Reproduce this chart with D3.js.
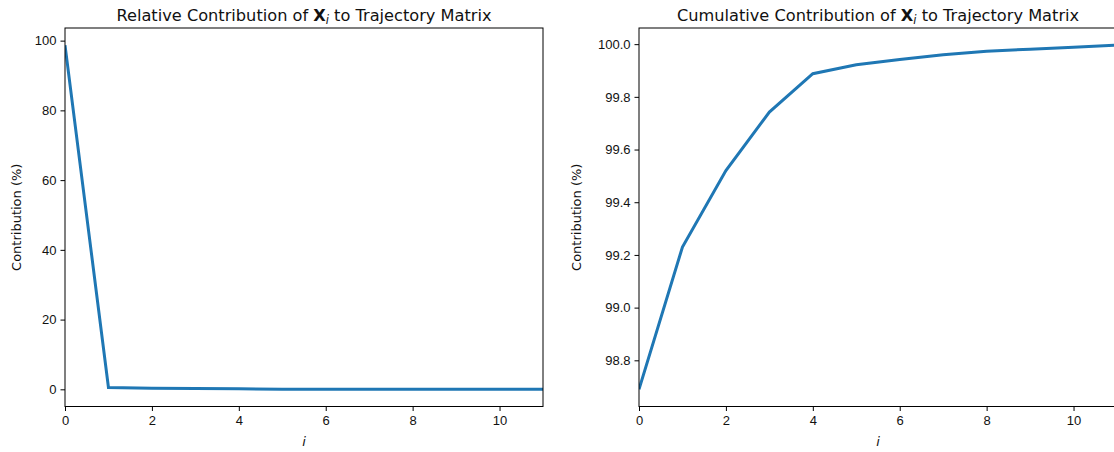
<!DOCTYPE html>
<html>
<head>
<meta charset="utf-8">
<script src="https://cdn.jsdelivr.net/npm/d3@7.9.0/dist/d3.min.js"></script>
<style>
  html, body { margin: 0; padding: 0; background: #fff; }
  svg { display: block; overflow: hidden; font-family: "DejaVu Sans", sans-serif; }
  .tick text { font-size: 13px; fill: #111; }
  .tick line { stroke: #000; }
</style>
</head>
<body>
<svg id="chart" width="1114" height="452"></svg>
<script>
// component index i
const components = [0, 1, 2, 3, 4, 5, 6, 7, 8, 9, 10, 11];
// relative contribution (%) of each X_i
const relative = [98.69, 0.54, 0.29, 0.22, 0.15, 0.034, 0.02, 0.018, 0.013, 0.008, 0.007, 0.008];
// cumulative contribution (%)
const cumulative = [98.69, 99.23, 99.52, 99.742, 99.888, 99.922, 99.942, 99.96, 99.973, 99.981, 99.988, 99.996];

const xTicks = [0, 2, 4, 6, 8, 10];
const leftYTicks = [0, 20, 40, 60, 80, 100];
const rightYTicks = [98.8, 99.0, 99.2, 99.4, 99.6, 99.8, 100.0];

const svg = d3.select("#chart");
const plotTop = 28, plotBottom = 406.5;

// matplotlib-like 5% margin
function padded(values) {
  const [lo, hi] = d3.extent(values);
  const m = (hi - lo) * 0.05;
  return [lo - m, hi + m];
}

function drawPanel(opts) {
  const { x0, x1, values, yTicks, yFormat, title, labelOffset } = opts;
  const x = d3.scaleLinear().domain([0, 11]).range([x0, x1]);
  const y = d3.scaleLinear().domain(padded(values)).range([plotBottom, plotTop]);
  const g = svg.append("g");

  const line = d3.line()
    .x((d, i) => x(components[i]))
    .y((d) => y(d));

  const clipId = "clip" + x0;
  g.append("clipPath").attr("id", clipId)
    .append("rect").attr("x", x0).attr("y", plotTop).attr("width", x1 - x0).attr("height", plotBottom - plotTop);

  g.append("path")
    .datum(values)
    .attr("clip-path", `url(#${clipId})`)
    .attr("fill", "none")
    .attr("stroke", "#1f77b4")
    .attr("stroke-width", 3)
    .attr("d", line);

  // spines
  g.append("rect")
    .attr("x", x0).attr("y", plotTop)
    .attr("width", x1 - x0).attr("height", plotBottom - plotTop)
    .attr("fill", "none").attr("stroke", "#000").attr("stroke-width", 1);

  g.append("g")
    .attr("transform", `translate(0,${plotBottom})`)
    .call(d3.axisBottom(x).tickValues(xTicks).tickSize(4.5).tickPadding(5).tickFormat(d3.format("d")))
    .call((a) => a.select(".domain").remove());

  g.append("g")
    .attr("transform", `translate(${x0},0)`)
    .call(d3.axisLeft(y).tickValues(yTicks).tickSize(4.5).tickPadding(4).tickFormat(yFormat))
    .call((a) => a.select(".domain").remove());

  const cx = (x0 + x1) / 2;
  const t = g.append("text")
    .attr("x", cx).attr("y", 20.5)
    .attr("text-anchor", "middle")
    .attr("font-size", 16.2)
    .attr("fill", "#111");
  t.append("tspan").text(title[0] + " ");
  t.append("tspan").attr("font-weight", "bold").text("X");
  t.append("tspan").attr("font-style", "italic").attr("font-size", 11.5).attr("dy", 3).text("i");
  t.append("tspan").attr("dy", -3).text(" " + title[1]);

  g.append("text")
    .attr("x", cx).attr("y", 446)
    .attr("text-anchor", "middle")
    .attr("font-size", 13)
    .attr("font-style", "italic")
    .attr("fill", "#111")
    .text("i");

  g.append("text")
    .attr("transform", `translate(${x0 - labelOffset},${(plotTop + plotBottom) / 2}) rotate(-90)`)
    .attr("text-anchor", "middle")
    .attr("font-size", 13)
    .attr("fill", "#111")
    .text("Contribution (%)");
}

drawPanel({
  x0: 65, x1: 543, values: relative, yTicks: leftYTicks,
  yFormat: d3.format("d"), labelOffset: 44,
  title: ["Relative Contribution of", "to Trajectory Matrix"],
});

drawPanel({
  x0: 639, x1: 1117, values: cumulative, yTicks: rightYTicks,
  yFormat: d3.format(".1f"), labelOffset: 58,
  title: ["Cumulative Contribution of", "to Trajectory Matrix"],
});
</script>
</body>
</html>
